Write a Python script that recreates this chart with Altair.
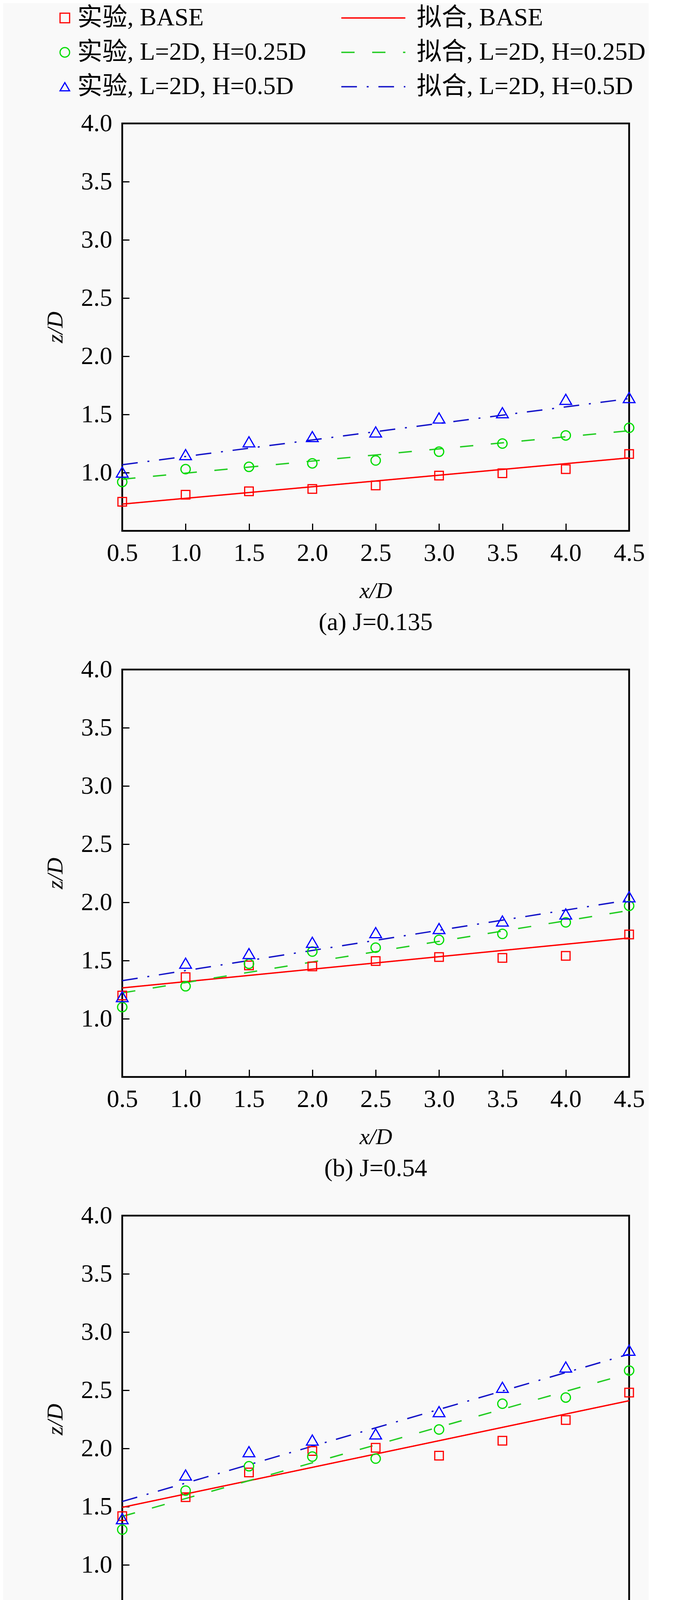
import altair as alt
import pandas as pd

# ---------------- data ----------------
X = [0.5, 1.0, 1.5, 2.0, 2.5, 3.0, 3.5, 4.0, 4.5]
FIT_X = [0.5, 4.5]

EXP_LABELS = ["实验, BASE", "实验, L=2D, H=0.25D", "实验, L=2D, H=0.5D"]
FIT_LABELS = ["拟合, BASE", "拟合, L=2D, H=0.25D", "拟合, L=2D, H=0.5D"]
CAPTIONS = ["(a) J=0.135", "(b) J=0.54", "(c) J=1.2"]

# panel (a) J=0.135
A_BASE = [0.75, 0.81, 0.84, 0.86, 0.89, 0.975, 0.995, 1.03, 1.16]
A_L25 = [0.92, 1.03, 1.05, 1.08, 1.105, 1.18, 1.25, 1.32, 1.385]
A_L5 = [1.005, 1.155, 1.265, 1.31, 1.35, 1.47, 1.515, 1.63, 1.645]
A_FIT_BASE = [0.73, 1.127]
A_FIT_L25 = [0.944, 1.36]
A_FIT_L5 = [1.068, 1.636]

# panel (b) J=0.54
B_BASE = [1.20, 1.357, 1.458, 1.45, 1.496, 1.53, 1.523, 1.54, 1.724]
B_L25 = [1.10, 1.279, 1.472, 1.577, 1.611, 1.678, 1.729, 1.828, 1.97]
B_L5 = [1.19, 1.477, 1.56, 1.657, 1.74, 1.775, 1.84, 1.90, 2.048]
B_FIT_BASE = [1.265, 1.694]
B_FIT_L25 = [1.222, 1.93]
B_FIT_L5 = [1.327, 2.02]

# panel (c) J=1.2
C_BASE = [1.419, 1.581, 1.794, 1.978, 2.006, 1.938, 2.066, 2.244, 2.48]
C_L25 = [1.303, 1.6375, 1.847, 1.93, 1.9125, 2.1625, 2.384, 2.4375, 2.669]
C_L5 = [1.397, 1.772, 1.972, 2.072, 2.125, 2.316, 2.525, 2.70, 2.844]
C_FIT_BASE = [1.494, 2.41]
C_FIT_L25 = [1.416, 2.644]
C_FIT_L5 = [1.544, 2.81]

# axis ticks
X_MAJOR = [0.5, 1.0, 1.5, 2.0, 2.5, 3.0, 3.5, 4.0, 4.5]
X_MINOR = [0.75, 1.25, 1.75, 2.25, 2.75, 3.25, 3.75, 4.25]
Y_MAJOR = [1.0, 1.5, 2.0, 2.5, 3.0, 3.5, 4.0]
Y_MINOR = [0.75, 1.25, 1.75, 2.25, 2.75, 3.25, 3.75]

# ---------------- styles ----------------
FONT = "Liberation Serif, Noto Sans CJK SC"
EXP_COLORS = ["#ff0000", "#00dd00", "#0000ff"]
FIT_COLORS = ["#ff0000", "#22cc22", "#1414c8"]
EXP_SHAPES = ["square", "circle", "triangle-up"]
EXP_SIZES = [484, 576, 900]
FIT_DASHES = [[1, 0], [34, 45], [40, 25, 5, 25]]

W, H = 1298, 1043


def panel(exp_series, fit_series, caption, show_legend):
    exp_df = pd.DataFrame(
        [{"x": x, "z": z, "label": lab}
         for lab, zs in zip(EXP_LABELS, exp_series) for x, z in zip(X, zs)]
    )
    fit_df = pd.DataFrame(
        [{"x": x, "z": z, "label": lab}
         for lab, zs in zip(FIT_LABELS, fit_series) for x, z in zip(FIT_X, zs)]
    )
    xs = alt.Scale(domain=[0.5, 4.5], nice=False, zero=False)
    ys = alt.Scale(domain=[0.5, 4.0], nice=False, zero=False)

    main_x = alt.Axis(values=X_MAJOR, format=".1f", orient="bottom", offset=-19,
                      tickSize=19, tickWidth=3, tickColor="black", domain=False,
                      grid=False, labelPadding=25, labelFont=FONT, labelFontSize=64,
                      labelColor="black", labelFlush=False, labelOverlap=False,
                      title="x/D", titleFont=FONT, titleFontSize=58,
                      titleFontStyle="italic", titleFontWeight="normal",
                      titleColor="black", titlePadding=36)
    main_y = alt.Axis(values=Y_MAJOR, format=".1f", orient="left", offset=-18,
                      tickSize=18, tickWidth=3, tickColor="black", domain=False,
                      grid=False, labelPadding=26, labelFont=FONT, labelFontSize=64,
                      labelColor="black", labelFlush=False, labelOverlap=False,
                      title="z/D", titleFont=FONT, titleFontSize=58,
                      titleFontStyle="italic", titleFontWeight="normal",
                      titleColor="black", titlePadding=36)
    minor_x = alt.Axis(values=X_MINOR, orient="bottom", offset=-9, tickSize=9,
                       tickWidth=3, tickColor="black", domain=False, grid=False,
                       labels=False, title=None)
    minor_y = alt.Axis(values=Y_MINOR, orient="left", offset=-9, tickSize=9,
                       tickWidth=3, tickColor="black", domain=False, grid=False,
                       labels=False, title=None)

    if show_legend:
        fit_legend = alt.Legend(orient="none", legendX=611, legendY=-302, title=None,
                                labelFont=FONT, labelFontSize=64, labelColor="black",
                                labelLimit=1500, symbolType="M-8.2,0L8.2,0",
                                symbolSize=400, symbolStrokeWidth=3.5,
                                labelOffset=79, rowPadding=24, padding=0,
                                direction="vertical")
        exp_legend = alt.Legend(orient="none", legendX=-187, legendY=-302, title=None,
                                labelFont=FONT, labelFontSize=64, labelColor="black",
                                labelLimit=1500, symbolSize=600, symbolStrokeWidth=3,
                                symbolOffset=8, labelOffset=0, rowPadding=24, padding=0,
                                direction="vertical")
    else:
        fit_legend = None
        exp_legend = None

    lines = alt.Chart(fit_df).mark_line(strokeWidth=3.5, strokeCap="butt").encode(
        x=alt.X("x:Q", scale=xs, axis=main_x),
        y=alt.Y("z:Q", scale=ys, axis=main_y),
        color=alt.Color("label:N", scale=alt.Scale(domain=FIT_LABELS, range=FIT_COLORS),
                        legend=fit_legend, sort=FIT_LABELS),
        strokeDash=alt.StrokeDash("label:N",
                                  scale=alt.Scale(domain=FIT_LABELS, range=FIT_DASHES),
                                  legend=fit_legend, sort=FIT_LABELS),
    )

    pts = []
    for i, lab in enumerate(EXP_LABELS):
        layer = alt.Chart(exp_df).transform_filter(alt.datum.label == lab).mark_point(
            filled=False, strokeWidth=3, opacity=1, size=EXP_SIZES[i]
        ).encode(
            x=alt.X("x:Q", scale=xs, axis=minor_x if i == 0 else None),
            y=alt.Y("z:Q", scale=ys, axis=minor_y if i == 0 else None),
            color=alt.Color("label:N", scale=alt.Scale(domain=EXP_LABELS, range=EXP_COLORS),
                            legend=exp_legend, sort=EXP_LABELS),
            shape=alt.Shape("label:N", scale=alt.Scale(domain=EXP_LABELS, range=EXP_SHAPES),
                            legend=exp_legend, sort=EXP_LABELS),
        )
        pts.append(layer)
    points = alt.layer(*pts)

    return alt.layer(lines, points).resolve_scale(
        color="independent", shape="independent", strokeDash="independent"
    ).resolve_axis(x="independent", y="independent").properties(
        width=W, height=H,
        title=alt.Title(caption, orient="bottom", anchor="middle", frame="group",
                        font=FONT, fontSize=64, fontWeight="normal", color="black",
                        offset=20),
    )


pa = panel([A_BASE, A_L25, A_L5], [A_FIT_BASE, A_FIT_L25, A_FIT_L5], CAPTIONS[0], True)
pb = panel([B_BASE, B_L25, B_L5], [B_FIT_BASE, B_FIT_L25, B_FIT_L5], CAPTIONS[1], False)
pc = panel([C_BASE, C_L25, C_L5], [C_FIT_BASE, C_FIT_L25, C_FIT_L5], CAPTIONS[2], False)

chart = alt.vconcat(pa, pb, pc, spacing=50).resolve_scale(
    color="independent", shape="independent", strokeDash="independent"
).properties(
    padding={"left": 102, "top": 3, "right": 5, "bottom": 0}
).configure(background="#f9f9f9").configure_view(stroke="black", strokeWidth=4.5)

chart.save("out.html", embed_options={"renderer": "svg", "actions": False})
